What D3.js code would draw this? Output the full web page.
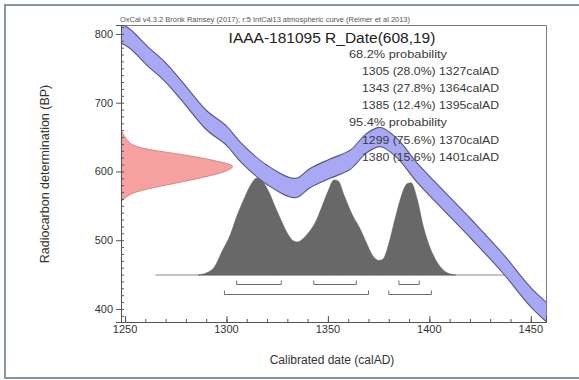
<!DOCTYPE html>
<html>
<head>
<meta charset="utf-8">
<script src="https://cdn.jsdelivr.net/npm/d3@7"></script>
<style>
  body { margin: 0; background: #fff; }
  svg { font-family: "Liberation Sans", Arial, sans-serif; }
</style>
</head>
<body>
<div id="chart"></div>
<script>
// calibration curve (IntCal13): calAD -> BP
const curveYears = [1246, 1252, 1261, 1270, 1278, 1290, 1300, 1307, 1320, 1334, 1341, 1351, 1361, 1369, 1376, 1384, 1394, 1405, 1421, 1436, 1450, 1459];
const curveBP    = [803, 794, 768, 744, 717, 675, 652, 628, 595, 576, 590, 604, 617, 641, 650, 634, 598, 564, 515, 467, 417, 392];
const curveSigma = 14;

// radiocarbon date R_Date(608,19) (red, on the y axis)
const dateBP      = [660, 645, 635, 628, 621, 612, 608, 599, 590, 580, 573, 566, 556];
const dateDensity = [0, 0.05, 0.12, 0.39, 0.68, 0.91, 1.0, 0.91, 0.68, 0.39, 0.18, 0.06, 0];

// calibrated distribution (grey)
const postYears   = [1286, 1290, 1294, 1298, 1302, 1305, 1309, 1312, 1315, 1318, 1321, 1324, 1327, 1330, 1333, 1335, 1338, 1341, 1344, 1347, 1350, 1353, 1355, 1358, 1362, 1366, 1369, 1372, 1375, 1377, 1380, 1383, 1386, 1389, 1391, 1394, 1397, 1400, 1403, 1406, 1409, 1413];
const postDensity = [0, 0.02, 0.08, 0.25, 0.42, 0.6, 0.8, 0.93, 1.0, 0.96, 0.85, 0.7, 0.56, 0.43, 0.35, 0.34, 0.38, 0.45, 0.55, 0.7, 0.86, 0.98, 0.97, 0.82, 0.62, 0.47, 0.33, 0.2, 0.15, 0.16, 0.32, 0.57, 0.8, 0.94, 0.95, 0.78, 0.5, 0.3, 0.16, 0.07, 0.02, 0];
const baselineRange = [1265, 1437];

const range68 = [[1305, 1327], [1343, 1364], [1385, 1395]];
const range95 = [[1299, 1370], [1380, 1401]];

const headerText = "OxCal v4.3.2 Bronk Ramsey (2017); r:5 IntCal13 atmospheric curve (Reimer et al 2013)";
const titleText = "IAAA-181095 R_Date(608,19)";
const summaryLines = [
  { text: "68.2% probability", indent: false },
  { text: "1305 (28.0%) 1327calAD", indent: true },
  { text: "1343 (27.8%) 1364calAD", indent: true },
  { text: "1385 (12.4%) 1395calAD", indent: true },
  { text: "95.4% probability", indent: false },
  { text: "1299 (75.6%) 1370calAD", indent: true },
  { text: "1380 (15.6%) 1401calAD", indent: true }
];

const yTicks = [400, 500, 600, 700, 800];
const xTicks = [1250, 1300, 1350, 1400, 1450];

const width = 579, height = 380;
const plotL = 121, plotR = 546, plotT = 25, plotB = 322;

const svg = d3.select("#chart").append("svg")
  .attr("width", width)
  .attr("height", height);

// outer frame
svg.append("rect")
  .attr("x", 5).attr("y", 5)
  .attr("width", 590).attr("height", 373)
  .attr("fill", "#fff")
  .attr("stroke", "#8694a3")
  .attr("stroke-width", 2);

const x = d3.scaleLinear().domain([1248, 1457.5]).range([plotL, plotR]);
const y = d3.scaleLinear().domain([381, 813]).range([plotB, plotT]);
const redX = d3.scaleLinear().domain([0, 1]).range([plotL, 236]);
const greyY = d3.scaleLinear().domain([0, 1]).range([275, 178]);

svg.append("clipPath").attr("id", "plotclip")
  .append("rect")
  .attr("x", plotL).attr("y", plotT)
  .attr("width", plotR - plotL).attr("height", plotB - plotT);

const plot = svg.append("g").attr("clip-path", "url(#plotclip)");

// red date curve
const redData = dateBP.map((b, i) => ({ bp: b, d: dateDensity[i] }));
plot.append("path")
  .datum(redData)
  .attr("fill", "#f7a0a0")
  .attr("stroke", "#c77a7a")
  .attr("stroke-width", 0.8)
  .attr("d", d3.area()
    .y(d => y(d.bp))
    .x0(plotL)
    .x1(d => redX(d.d))
    .curve(d3.curveBasis));

// grey calibrated distribution
const greyData = postYears.map((yr, i) => ({ yr: yr, d: postDensity[i] }));
plot.append("line")
  .attr("x1", x(baselineRange[0])).attr("x2", x(baselineRange[1]))
  .attr("y1", greyY(0)).attr("y2", greyY(0))
  .attr("stroke", "#8a8a8a")
  .attr("stroke-width", 1);
plot.append("path")
  .datum(greyData)
  .attr("fill", "#686868")
  .attr("stroke", "#5e5e5e")
  .attr("stroke-width", 0.6)
  .attr("d", d3.area()
    .x(d => x(d.yr))
    .y0(greyY(0))
    .y1(d => greyY(d.d))
    .curve(d3.curveMonotoneX));

// calibration band
const bandData = curveYears.map((yr, i) => ({ yr: yr, bp: curveBP[i] }));
plot.append("path")
  .datum(bandData)
  .attr("fill", "#a8a8f4")
  .attr("stroke", "#555580")
  .attr("stroke-width", 1.1)
  .attr("d", d3.area()
    .x(d => x(d.yr))
    .y0(d => y(d.bp - curveSigma))
    .y1(d => y(d.bp + curveSigma))
    .curve(d3.curveCatmullRom));

// range brackets
function brackets(ranges, yy) {
  svg.append("g").selectAll("path")
    .data(ranges)
    .enter()
    .append("path")
    .attr("fill", "none")
    .attr("stroke", "#6d6d6d")
    .attr("stroke-width", 1)
    .attr("d", r => `M${x(r[0])},${yy - 4}V${yy}H${x(r[1])}V${yy - 4}`);
}
brackets(range68, 284.5);
brackets(range95, 294.5);

// texts
svg.append("text")
  .attr("x", 120).attr("y", 22)
  .attr("font-size", "6.3px")
  .attr("fill", "#555")
  .attr("textLength", 290)
  .attr("lengthAdjust", "spacingAndGlyphs")
  .text(headerText);

svg.append("text")
  .attr("x", 332).attr("y", 43)
  .attr("text-anchor", "middle")
  .attr("font-size", "15.5px")
  .attr("fill", "#222")
  .text(titleText);

svg.append("g").selectAll("text")
  .data(summaryLines)
  .enter()
  .append("text")
  .attr("x", d => d.indent ? 362 : 349)
  .attr("y", (d, i) => 58 + i * 17.1)
  .attr("font-size", "11.5px")
  .attr("fill", "#3a3a3a")
  .attr("textLength", d => d.indent ? 137 : 98)
  .attr("lengthAdjust", "spacingAndGlyphs")
  .text(d => d.text);

// axes
const yAxis = d3.axisLeft(y).tickValues(yTicks).tickSize(5).tickPadding(3);
const yMinor = d3.axisRight(y).tickValues(d3.range(390, 811, 10)).tickSize(3).tickFormat("");
const xAxis = d3.axisTop(x).tickValues(xTicks).tickSize(6).tickFormat("");
const xMinor = d3.axisTop(x).tickValues(d3.range(1250, 1457, 10)).tickSize(3).tickFormat("");

// plot box (top and right)
svg.append("path")
  .attr("fill", "none")
  .attr("stroke", "#7a7a7a")
  .attr("stroke-width", 1)
  .attr("d", `M${plotL},${plotT + 0.5}H${plotR + 0.5}V${plotB}`);

const gy = svg.append("g").attr("transform", `translate(${plotL},0)`).call(yAxis);
gy.selectAll("text").attr("font-size", "11px").attr("fill", "#333").style("font-family", "Liberation Sans, Arial, sans-serif");
svg.append("g").attr("transform", `translate(${plotL},0)`).call(yMinor);

svg.append("g").attr("transform", `translate(0,${plotB})`).call(xAxis);
svg.append("g").attr("transform", `translate(0,${plotB})`).call(xMinor);

svg.selectAll(".domain").attr("stroke", "#555");
svg.selectAll(".tick line").attr("stroke", "#555");

svg.append("g").selectAll("text")
  .data(xTicks)
  .enter()
  .append("text")
  .attr("x", d => x(d))
  .attr("y", plotB + 11)
  .attr("text-anchor", "middle")
  .attr("font-size", "11px")
  .attr("fill", "#333")
  .text(d => d);

// axis titles
svg.append("text")
  .attr("x", 332).attr("y", 364)
  .attr("text-anchor", "middle")
  .attr("font-size", "12px")
  .attr("fill", "#333")
  .text("Calibrated date (calAD)");

svg.append("text")
  .attr("transform", "translate(49,174) rotate(-90)")
  .attr("text-anchor", "middle")
  .attr("font-size", "12.5px")
  .attr("fill", "#333")
  .text("Radiocarbon determination (BP)");
</script>
</body>
</html>
